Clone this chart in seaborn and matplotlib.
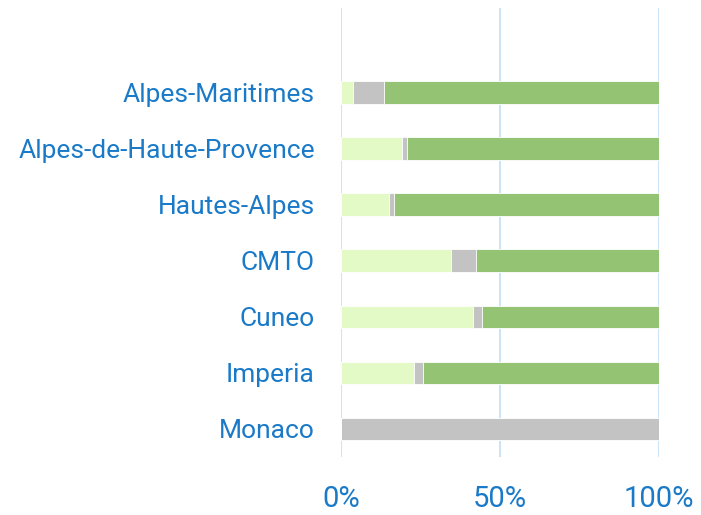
import numpy as np
import pandas as pd
import matplotlib
matplotlib.use('Agg')
import matplotlib.pyplot as plt
import seaborn as sns

# shares per territory, in %
territories = ['Alpes-Maritimes', 'Alpes-de-Haute-Provence', 'Hautes-Alpes',
               'CMTO', 'Cuneo', 'Imperia', 'Monaco']
light_share = [3.5, 19.0, 15.1, 34.5, 41.4, 22.8, 0.0]
gray_share = [9.9, 1.6, 1.5, 7.8, 2.9, 2.8, 100.0]
green_share = [86.6, 79.4, 83.4, 57.7, 55.7, 74.4, 0.0]
x_ticks = [0, 50, 100]
x_labels = ['0%', '50%', '100%']

df = pd.DataFrame({'territory': territories, 'light': light_share,
                   'gray': gray_share, 'green': green_share})
df['cum_gray'] = df['light'] + df['gray']
df['cum_green'] = df['cum_gray'] + df['green']

sns.set_style('white')
plt.rcParams['font.family'] = ['Roboto', 'DejaVu Sans']

text_blue = '#1a7ac8'
fig = plt.figure(figsize=(7.01, 5.15), dpi=100)
ax = fig.add_axes([0.487, 0.1126, 0.453, 0.8714])

# stacked: draw totals back to front
sns.barplot(data=df, y='territory', x='cum_green', color='#93c373', width=0.4,
            orient='h', ax=ax, saturation=1, linewidth=0.6, edgecolor='white', zorder=3)
sns.barplot(data=df, y='territory', x='cum_gray', color='#c3c3c3', width=0.4,
            orient='h', ax=ax, saturation=1, linewidth=0.6, edgecolor='white', zorder=3)
sns.barplot(data=df, y='territory', x='light', color='#e3f9c6', width=0.4,
            orient='h', ax=ax, saturation=1, linewidth=0.6, edgecolor='white', zorder=3)

ax.set_xlim(0, 100)
ax.set_ylim(6.5, -1.5)
ax.set_xticks(x_ticks)
ax.set_xticklabels(x_labels)
ax.set_xlabel('')
ax.set_ylabel('')
for x in x_ticks:
    ax.axvline(x, color='#cde3f6', linewidth=1.5, zorder=1)
sns.despine(ax=ax, left=True, bottom=True, top=True, right=True)
ax.tick_params(axis='y', length=0, pad=19, labelsize=19, labelcolor=text_blue)
ax.tick_params(axis='x', length=0, pad=20, labelsize=21, labelcolor=text_blue)

fig.savefig('out.png', dpi=100)
